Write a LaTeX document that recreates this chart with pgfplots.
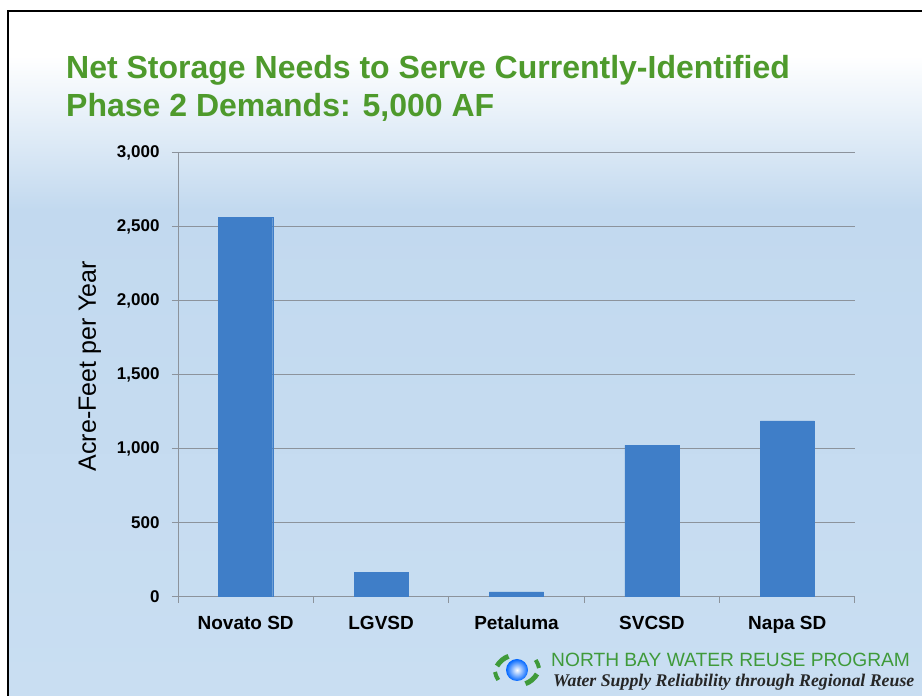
\documentclass[border=0pt]{standalone}
\usepackage{pgfplots}
\pgfplotsset{compat=1.18}
\usepackage{fontspec}
\setmainfont{Liberation Sans}
\newfontfamily\serifbi{Liberation Serif}
\usetikzlibrary{shadings}
\definecolor{bgblue}{HTML}{C2D9EF}
\definecolor{bgblue2}{HTML}{C9DEF2}
\definecolor{barblue}{HTML}{3F7EC8}
\definecolor{titlegreen}{HTML}{4E9A2C}
\definecolor{logogreen}{HTML}{3F9A3A}
\definecolor{gridgray}{HTML}{8C939C}
\begin{document}
\begin{tikzpicture}[x=1pt,y=1pt]
\useasboundingbox (0,0) rectangle (922,696);
\fill[white] (0,0) rectangle (922,696);
\shade[top color=white, bottom color=bgblue] (8,486) rectangle (922,640);
\fill[white] (8,640) rectangle (922,685);
\shade[top color=bgblue, bottom color=bgblue2] (8,0) rectangle (922,486.1);
\draw[black, line width=2.2pt] (8,0) -- (8,685) -- (922,685);
\node[anchor=base west, text=titlegreen, font=\bfseries\fontsize{32}{36}\selectfont, inner sep=0] at (66,617) {Net Storage Needs to Serve Currently-Identified};
\node[anchor=base west, text=titlegreen, font=\bfseries\fontsize{32}{36}\selectfont, inner sep=0] at (66,579) {Phase 2 Demands: 5,000 AF};
\begin{axis}[
  at={(178pt,99pt)}, anchor=south west, scale only axis,
  width=677pt, height=444pt,
  xmin=-0.5, xmax=4.5, ymin=0, ymax=3000,
  ybar, bar width=54pt,
  axis x line*=bottom, axis y line*=left,
  axis line style={gridgray, line width=1pt},
  xtick={-0.5,0.5,1.5,2.5,3.5,4.5},
  xticklabels={},
  extra x ticks={0,1,2,3,4},
  extra x tick labels={Novato SD, LGVSD, Petaluma, SVCSD, Napa SD},
  extra x tick style={major tick length=0pt},
  ytick={0,500,...,3000},
  tick style={draw=gridgray, line width=1pt},
  major tick length=6pt, tick align=outside,
  ymajorgrids, grid style={gridgray, line width=1pt},
  /pgf/number format/assume math mode=true,
  /pgf/number format/1000 sep={,},
  yticklabel style={font=\bfseries\fontsize{17}{20}\selectfont, xshift=-9pt},
  xticklabel style={font=\bfseries\fontsize{19}{22}\selectfont, anchor=base, yshift=-33pt},
  ylabel={Acre-Feet per Year},
  ylabel style={at={(axis description cs:-0.130,0.52)}, anchor=center, font=\fontsize{25}{30}\selectfont},
]
\addplot[fill=barblue, draw=barblue] coordinates {(0,2565) (1,165) (2,35) (3,1025) (4,1190)};
\end{axis}
% logo
\begin{scope}[shift={(517,26)}]
\shade[inner color=white, outer color=blue!60!cyan] (0,0) circle (11);
\draw[logogreen, line width=5pt] (-20,4) arc (150:110:22);
\draw[logogreen, line width=5pt] (20,-4) arc (-30:-70:22);
\draw[logogreen, line width=4pt] (-22,-2) arc (190:215:20);
\draw[logogreen, line width=4pt] (22,2) arc (10:35:20);
\end{scope}
\node[anchor=base west, text=logogreen, font=\fontsize{19.2}{22}\selectfont, inner sep=0] at (551,29) {NORTH BAY WATER REUSE PROGRAM};
\node[anchor=base west, text=black!85, font=\serifbi\bfseries\itshape\fontsize{17.8}{20}\selectfont, inner sep=0] at (553,9) {Water Supply Reliability through Regional Reuse};
\end{tikzpicture}
\end{document}
